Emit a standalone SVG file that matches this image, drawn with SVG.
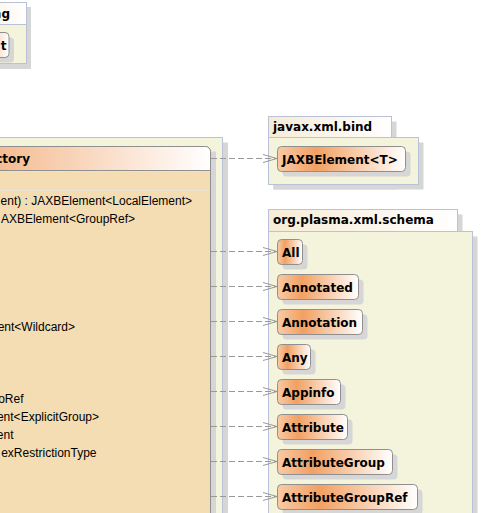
<svg xmlns="http://www.w3.org/2000/svg" width="481" height="513" viewBox="0 0 481 513">
<defs>
<linearGradient id="nodeGrad" x1="0" y1="0" x2="1" y2="0">
<stop offset="0" stop-color="#F8CBA6"/>
<stop offset="0.3" stop-color="#F2A062"/>
<stop offset="1" stop-color="#FFFFFF"/>
</linearGradient>
<linearGradient id="tabGrad" x1="0" y1="0" x2="1" y2="0">
<stop offset="0" stop-color="#F6EBD6"/>
<stop offset="1" stop-color="#FFFFFF"/>
</linearGradient>
<linearGradient id="hdrGrad" gradientUnits="userSpaceOnUse" x1="0" y1="0" x2="211" y2="0">
<stop offset="0" stop-color="#F5BC92"/>
<stop offset="1" stop-color="#FFFFFF"/>
</linearGradient>
<marker id="open" markerWidth="16" markerHeight="10" refX="14" refY="5" orient="auto" markerUnits="userSpaceOnUse">
<path d="M0,1 L14,5 L0,9" fill="none" stroke="#999999" stroke-width="1"/>
</marker>
</defs>
<style>
.pkg { fill:#F4F3DB; stroke:#B9C2D6; stroke-width:1 }
.tab { fill:url(#tabGrad); stroke:#B9C2D6; stroke-width:1 }
.sh { fill:#D6D6D6 }
.node { fill:url(#nodeGrad); stroke:#8F8F8F; stroke-width:1 }
.lbl { font-family:"DejaVu Sans", sans-serif; font-weight:bold; font-size:12px; fill:#000000 }
.op { font-family:"Liberation Sans", Arial, sans-serif; font-size:12px; fill:#000000 }
.conn { stroke:#999999; stroke-width:1; stroke-dasharray:6,3; fill:none }
.cls { fill:#F4DDB3; stroke:#8F8F8F; stroke-width:1 }
.sep { stroke:#E9E3D6; stroke-width:1 }
</style>

<g id="pkg-topleft">
<rect class="sh" x="-45" y="7" width="76" height="62"/>
<rect class="tab" x="-50" y="2.5" width="76.5" height="22"/>
<rect class="pkg" x="-50" y="24.5" width="76.5" height="39"/>
<text class="lbl" x="10" y="18" text-anchor="end">ng</text>
</g>
<g id="node-t">
<rect class="sh" x="-35" y="37.5" width="49" height="25" rx="4"/>
<rect class="node" x="-40" y="32.5" width="49" height="25" rx="4"/>
<text class="lbl" x="6.5" y="49.5" text-anchor="end">t</text>
</g>

<g id="pkg-factory">
<rect class="sh" x="-15" y="142.5" width="243" height="400"/>
<rect class="pkg" x="-20" y="137.5" width="242.5" height="400"/>
</g>

<g id="class-factory">
<rect class="sh" x="-15" y="151.5" width="231" height="400"/>
<path class="cls" d="M-20,146.5 L205.5,146.5 A5,5 0 0 1 210.5,151.5 L210.5,530 L-20,530 Z"/>
<path d="M-20,146.5 L205.5,146.5 A5,5 0 0 1 210.5,151.5 L210.5,170.5 L-20,170.5 Z" fill="url(#hdrGrad)" stroke="#8F8F8F" stroke-width="1"/>
<line class="sep" x1="-20" y1="171.5" x2="210" y2="171.5"/>
<line class="sep" x1="-20" y1="190.5" x2="210" y2="190.5"/>
<text class="lbl" x="30" y="163" text-anchor="end">ctory</text>
<text class="op" x="192" y="205" text-anchor="end">ent) : JAXBElement&lt;LocalElement&gt;</text>
<text class="op" x="135" y="223" text-anchor="end">AXBElement&lt;GroupRef&gt;</text>
<text class="op" x="75" y="331" text-anchor="end">ent&lt;Wildcard&gt;</text>
<text class="op" x="23.5" y="403" text-anchor="end">oRef</text>
<text class="op" x="99" y="421" text-anchor="end">ent&lt;ExplicitGroup&gt;</text>
<text class="op" x="13.5" y="439" text-anchor="end">ent</text>
<text class="op" x="96.5" y="457" text-anchor="end">exRestrictionType</text>
</g>

<g id="pkg-javax-xml-bind">
<rect class="sh" x="273.5" y="121.5" width="123" height="68"/>
<rect class="sh" x="273.5" y="142.5" width="150" height="47"/>
<rect class="tab" x="268.5" y="116.5" width="123" height="21"/>
<rect class="pkg" x="268.5" y="137.5" width="150" height="47"/>
<text class="lbl" x="273" y="131">javax.xml.bind</text>
</g>
<g id="node-JAXBElement">
<rect class="sh" x="282.5" y="151.5" width="128" height="25" rx="4"/>
<rect class="node" x="277.5" y="146.5" width="128" height="25" rx="4"/>
<text class="lbl" x="282" y="163.5">JAXBElement&lt;T&gt;</text>
</g>

<g id="pkg-org-plasma-xml-schema">
<rect class="sh" x="273.5" y="214.5" width="189" height="320"/>
<rect class="sh" x="273.5" y="236.5" width="204" height="300"/>
<rect class="tab" x="268.5" y="209.5" width="189" height="22"/>
<rect class="pkg" x="268.5" y="231.5" width="204" height="300"/>
<text class="lbl" x="273" y="224">org.plasma.xml.schema</text>
</g>

<g id="node-All">
<rect class="sh" x="282.5" y="244.5" width="25" height="25" rx="4"/>
<rect class="node" x="277.5" y="239.5" width="25" height="25" rx="4"/>
<text class="lbl" x="282" y="256.5">All</text>
</g>
<g id="node-Annotated">
<rect class="sh" x="282.5" y="279.5" width="81" height="25" rx="4"/>
<rect class="node" x="277.5" y="274.5" width="81" height="25" rx="4"/>
<text class="lbl" x="282" y="291.5">Annotated</text>
</g>
<g id="node-Annotation">
<rect class="sh" x="282.5" y="314.5" width="85" height="25" rx="4"/>
<rect class="node" x="277.5" y="309.5" width="85" height="25" rx="4"/>
<text class="lbl" x="282" y="326.5">Annotation</text>
</g>
<g id="node-Any">
<rect class="sh" x="282.5" y="349.5" width="33" height="25" rx="4"/>
<rect class="node" x="277.5" y="344.5" width="33" height="25" rx="4"/>
<text class="lbl" x="282" y="361.5">Any</text>
</g>
<g id="node-Appinfo">
<rect class="sh" x="282.5" y="384.5" width="63" height="25" rx="4"/>
<rect class="node" x="277.5" y="379.5" width="63" height="25" rx="4"/>
<text class="lbl" x="282" y="396.5">Appinfo</text>
</g>
<g id="node-Attribute">
<rect class="sh" x="282.5" y="419.5" width="70" height="25" rx="4"/>
<rect class="node" x="277.5" y="414.5" width="70" height="25" rx="4"/>
<text class="lbl" x="282" y="431.5">Attribute</text>
</g>
<g id="node-AttributeGroup">
<rect class="sh" x="282.5" y="454.5" width="115" height="25" rx="4"/>
<rect class="node" x="277.5" y="449.5" width="115" height="25" rx="4"/>
<text class="lbl" x="282" y="466.5">AttributeGroup</text>
</g>
<g id="node-AttributeGroupRef">
<rect class="sh" x="282.5" y="489.5" width="140" height="25" rx="4"/>
<rect class="node" x="277.5" y="484.5" width="140" height="25" rx="4"/>
<text class="lbl" x="282" y="501.5">AttributeGroupRef</text>
</g>

<g id="connectors">
<line class="conn" x1="211" y1="158.5" x2="277" y2="158.5" marker-end="url(#open)"/>
<line class="conn" x1="211" y1="251.5" x2="277" y2="251.5" marker-end="url(#open)"/>
<line class="conn" x1="211" y1="286.5" x2="277" y2="286.5" marker-end="url(#open)"/>
<line class="conn" x1="211" y1="321.5" x2="277" y2="321.5" marker-end="url(#open)"/>
<line class="conn" x1="211" y1="356.5" x2="277" y2="356.5" marker-end="url(#open)"/>
<line class="conn" x1="211" y1="391.5" x2="277" y2="391.5" marker-end="url(#open)"/>
<line class="conn" x1="211" y1="426.5" x2="277" y2="426.5" marker-end="url(#open)"/>
<line class="conn" x1="211" y1="461.5" x2="277" y2="461.5" marker-end="url(#open)"/>
<line class="conn" x1="211" y1="496.5" x2="277" y2="496.5" marker-end="url(#open)"/>
</g>
</svg>
